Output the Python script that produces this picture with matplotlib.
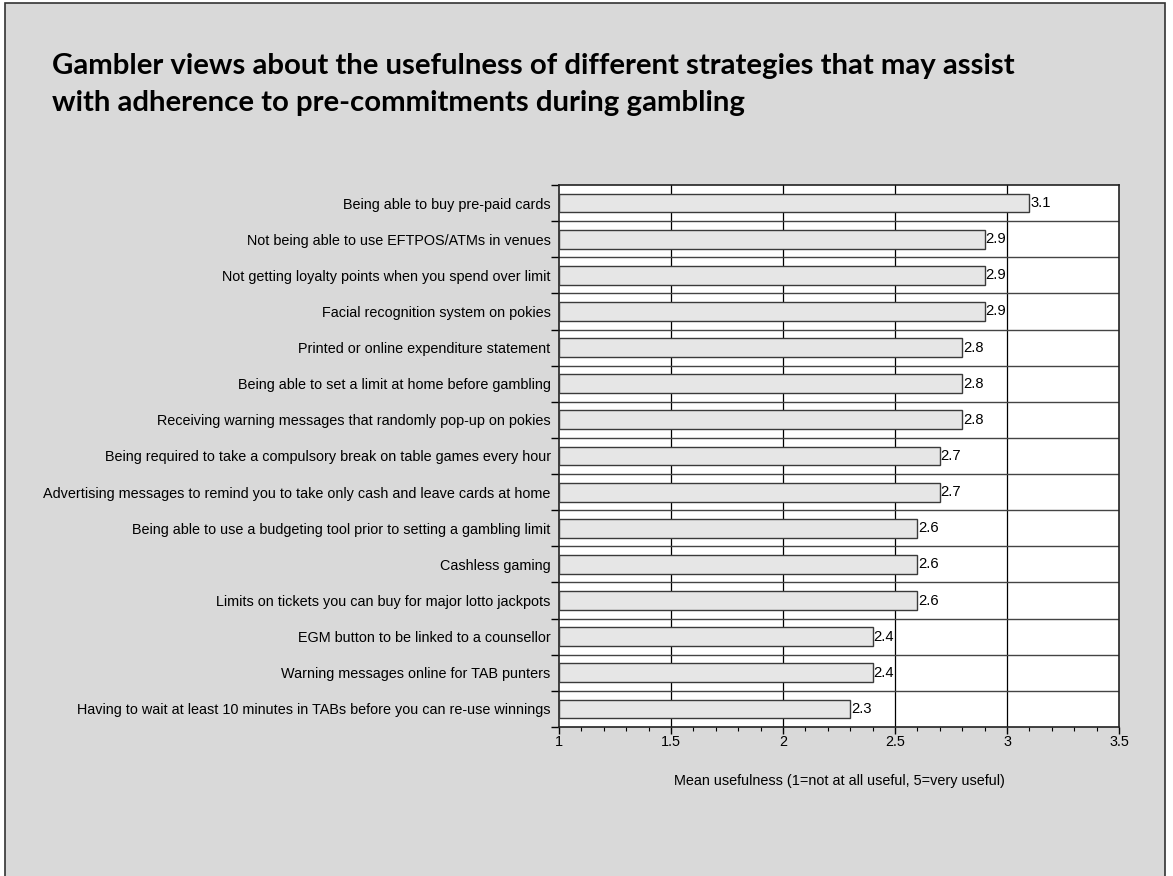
import matplotlib.pyplot as plt
import numpy as np
from matplotlib.patches import Rectangle
from matplotlib.ticker import MultipleLocator, FixedLocator

# Data (top to bottom as shown)
strategies = [
    "Being able to buy pre-paid cards",
    "Not being able to use EFTPOS/ATMs in venues",
    "Not getting loyalty points when you spend over limit",
    "Facial recognition system on pokies",
    "Printed or online expenditure statement",
    "Being able to set a limit at home before gambling",
    "Receiving warning messages that randomly pop-up on pokies",
    "Being required to take a compulsory break on table games every hour",
    "Advertising messages to remind you to take only cash and leave cards at home",
    "Being able to use a budgeting tool prior to setting a gambling limit",
    "Cashless gaming",
    "Limits on tickets you can buy for major lotto jackpots",
    "EGM button to be linked to a counsellor",
    "Warning messages online for TAB punters",
    "Having to wait at least 10 minutes in TABs before you can re-use winnings",
]
mean_useful = [3.1, 2.9, 2.9, 2.9, 2.8, 2.8, 2.8, 2.7, 2.7, 2.6, 2.6, 2.6, 2.4, 2.4, 2.3]
x_ticks = [1, 1.5, 2, 2.5, 3, 3.5]
x_tick_labels = ["1", "1.5", "2", "2.5", "3", "3.5"]

title = ("Gambler views about the usefulness of different strategies that may assist\n"
         "with adherence to pre-commitments during gambling")

bg = "#d9d9d9"
fig = plt.figure(figsize=(11.73, 8.76), dpi=100, facecolor="white")

# grey slide panel with border
panel = Rectangle((5 / 1173, -0.01), 1160 / 1173, 1 - 3 / 876 + 0.01,
                  transform=fig.transFigure, facecolor=bg,
                  edgecolor="#333333", linewidth=1.2, zorder=-10)
fig.add_artist(panel)

fig.text(52 / 1173, 1 - 53 / 876, title, fontsize=21.2, fontweight="bold",
         family=["Lato", "DejaVu Sans"], va="top", ha="left", linespacing=1.52)

ax = fig.add_axes([559 / 1173, 1 - 727 / 876, 560 / 1173, 542 / 876])
ax.set_facecolor("white")

n = len(strategies)
y = np.arange(n)
ax.barh(y, [v - 1 for v in mean_useful], left=1, height=0.52,
        color="#e6e6e6", edgecolor="#3a3a3a", linewidth=1, zorder=3)

for yi, v in zip(y, mean_useful):
    ax.text(v + 0.004, yi, f"{v:.1f}", va="center", ha="left", fontsize=10.6,
            family="Liberation Sans", zorder=4)

ax.set_xlim(1, 3.5)
ax.set_ylim(n - 0.5, -0.5)

ax.xaxis.set_major_locator(FixedLocator(x_ticks))
ax.set_xticklabels(x_tick_labels, family="Liberation Sans", fontsize=10.4)
ax.xaxis.set_minor_locator(MultipleLocator(0.1))
ax.tick_params(axis="x", which="major", direction="out", length=5, width=1, pad=1)
ax.tick_params(axis="x", which="minor", direction="out", length=3, width=0.8)

# category labels at centers, boundary ticks/grid on minor positions
ax.set_yticks(y)
ax.set_yticklabels(strategies, family="Liberation Sans", fontsize=10.4)
ax.tick_params(axis="y", which="major", length=0, pad=6)
ax.yaxis.set_minor_locator(FixedLocator(np.arange(-0.5, n, 1.0)))
ax.tick_params(axis="y", which="minor", direction="out", length=6, width=1)

for xv in x_ticks[1:-1]:
    ax.axvline(xv, color="black", linewidth=0.9, zorder=1)
for yb in np.arange(0.5, n - 0.5, 1.0):
    ax.axhline(yb, color="#444444", linewidth=1, zorder=1)

for s in ax.spines.values():
    s.set_color("#222222")
    s.set_linewidth(1.2)

ax.set_xlabel("Mean usefulness (1=not at all useful, 5=very useful)",
              family="Liberation Sans", fontsize=10.4, labelpad=18)

fig.savefig("out.png", dpi=100, facecolor="white")
